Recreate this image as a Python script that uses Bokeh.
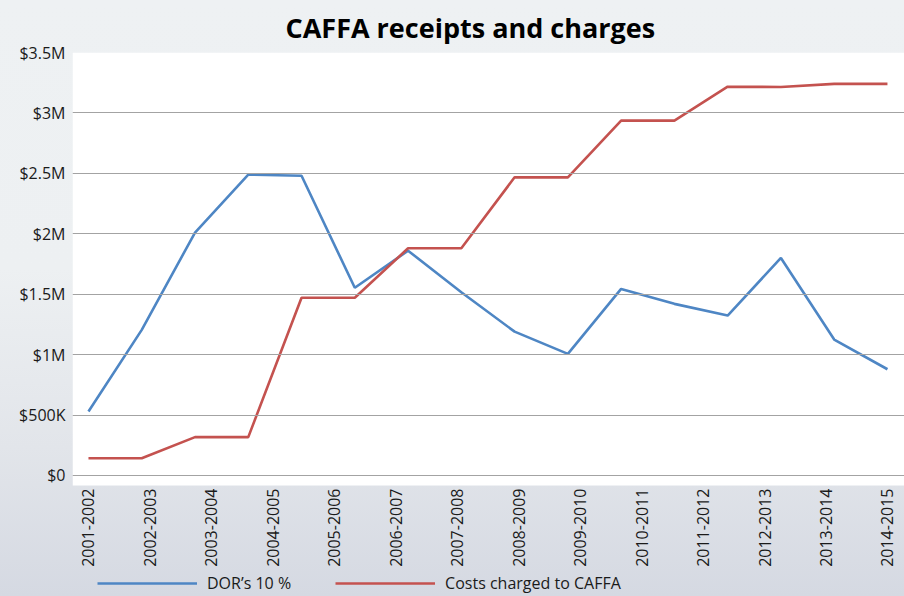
import math
from bokeh.plotting import figure
from bokeh.models import (Range1d, FixedTicker, Legend, LegendItem,
                          ColumnDataSource, BoxAnnotation)
from bokeh.core.properties import value
from bokeh.embed import file_html
from bokeh.resources import INLINE

# ---- data -------------------------------------------------------------
periods = ["2001-2002", "2002-2003", "2003-2004", "2004-2005", "2005-2006",
           "2006-2007", "2007-2008", "2008-2009", "2009-2010", "2010-2011",
           "2011-2012", "2012-2013", "2013-2014", "2014-2015"]

point_index = list(range(16))
dor_10pct = [530000, 1205000, 2010000, 2490000, 2480000, 1553000, 1860000,
             1516000, 1190000, 1006000, 1544000, 1420000, 1323000, 1800000,
             1125000, 879000]
costs_caffa = [143000, 143000, 317000, 317000, 1470000, 1470000, 1880000,
               1880000, 2467000, 2467000, 2936000, 2936000, 3217000, 3215000,
               3240000, 3240000]

y_ticks = [0, 500000, 1000000, 1500000, 2000000, 2500000, 3000000, 3500000]
y_labels = ["$0", "$500K", "$1M", "$1.5M", "$2M", "$2.5M", "$3M", "$3.5M"]

FONT = "Open Sans"
BLUE = "#4e86c4"
RED = "#c4524f"
TEXT = "#1a1a1a"

# ---- layout constants --------------------------------------------------
y_top = 3500000
white_bottom = -83000          # white plot area ends a little below $0
plot_px = 433                  # height of the white plot area
ext_px = 111                   # room below it for period labels + legend
units_per_px = (y_top - white_bottom) / plot_px
y_bottom = white_bottom - ext_px * units_per_px

n_pts = len(point_index)
n_lab = len(periods)
x_start, x_end = -0.30, (n_pts - 1) + 0.32

src = ColumnDataSource(dict(idx=point_index, dor=dor_10pct, costs=costs_caffa))
label_src = ColumnDataSource(dict(
    x=[i * (n_pts - 1) / (n_lab - 1) for i in range(n_lab)],
    y=[white_bottom - 3 * units_per_px] * n_lab,
    text=periods))

p = figure(frame_width=832, frame_height=plot_px + ext_px, output_backend="svg",
           toolbar_location=None,
           x_range=Range1d(x_start, x_end),
           y_range=Range1d(y_bottom, y_top),
           x_axis_location=None, y_axis_location="left",
           min_border_left=72, min_border_right=0, min_border_top=52,
           min_border_bottom=0)

p.border_fill_color = None
p.background_fill_color = None
p.outline_line_color = None
p.styles = {"background": "linear-gradient(to bottom, #eef1f3 0%, #edf0f2 45%, "
                          "#e2e5ea 75%, #d5d9e2 100%)"}

# white plot area
p.add_layout(BoxAnnotation(bottom=white_bottom, fill_color="white", fill_alpha=1.0,
                           line_color=None, level="underlay"))

# title
p.title.text = "CAFFA receipts and charges"
p.title.text_font = FONT
p.title.text_font_size = "27px"
p.title.text_font_style = "bold"
p.title.text_color = "#000000"
p.title.align = "left"
p.title.offset = 213
p.title.standoff = 13

# y axis
yax = p.yaxis[0]
yax.ticker = FixedTicker(ticks=y_ticks)
yax.major_label_overrides = {t: l for t, l in zip(y_ticks, y_labels)}
yax.axis_line_color = None
yax.major_tick_line_color = None
yax.minor_tick_line_color = None
yax.major_tick_out = 0
yax.major_tick_in = 0
yax.major_label_text_font = FONT
yax.major_label_text_font_size = "16px"
yax.major_label_text_color = TEXT
yax.major_label_standoff = 7

p.ygrid.ticker = FixedTicker(ticks=y_ticks)
p.ygrid.grid_line_color = "#a3a3a3"
p.ygrid.grid_line_width = 1
p.ygrid.level = "glyph"
p.xgrid.grid_line_color = None

# period labels (vertical, under the plot area)
p.text(x="x", y="y", text="text", source=label_src, angle=math.pi / 2,
       text_align="right", text_baseline="middle",
       text_font=value(FONT), text_font_size="16px", text_color=TEXT)

r_dor = p.line("idx", "dor", source=src, line_color=BLUE, line_width=2.6)
r_cost = p.line("idx", "costs", source=src, line_color=RED, line_width=2.6)

legend = Legend(items=[LegendItem(label="DOR\u2019s 10 %", renderers=[r_dor]),
                       LegendItem(label="Costs charged to CAFFA", renderers=[r_cost])],
                orientation="horizontal", location=(25, 2))
legend.glyph_width = 100
legend.glyph_height = 16
legend.label_standoff = 10
legend.spacing = 44
legend.padding = 0
legend.margin = 0
legend.label_text_font = FONT
legend.label_text_font_size = "16px"
legend.label_text_color = TEXT
legend.background_fill_alpha = 0
legend.border_line_color = None
p.add_layout(legend)

open("out.html", "w").write(file_html(p, INLINE))
